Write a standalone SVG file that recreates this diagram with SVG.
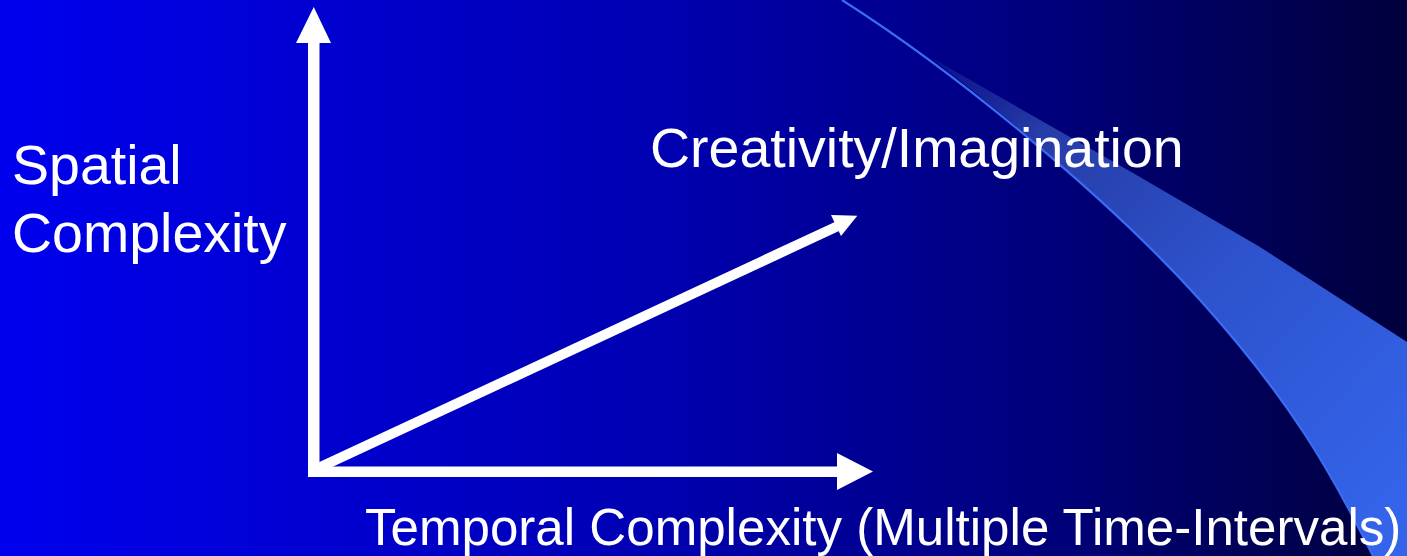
<svg xmlns="http://www.w3.org/2000/svg" width="1407" height="556" viewBox="0 0 1407 556">
  <defs>
    <linearGradient id="bg" x1="0" y1="0" x2="1407" y2="0" gradientUnits="userSpaceOnUse">
      <stop offset="0" stop-color="#0000ee"/>
      <stop offset="0.45" stop-color="#0000b4"/>
      <stop offset="0.75" stop-color="#00007a"/>
      <stop offset="1" stop-color="#00003c"/>
    </linearGradient>
    <linearGradient id="band" x1="930" y1="57" x2="1400" y2="500" gradientUnits="userSpaceOnUse">
      <stop offset="0" stop-color="#22359a" stop-opacity="0.3"/>
      <stop offset="0.2" stop-color="#2a42ac" stop-opacity="0.9"/>
      <stop offset="0.55" stop-color="#2d52cc" stop-opacity="1"/>
      <stop offset="1" stop-color="#3464ea" stop-opacity="1"/>
    </linearGradient>
    <style>
      .lbl { font-family: "Liberation Sans", Arial, sans-serif; fill: #ffffff; }
      .big { font-size: 55.5px; }
      .small { font-size: 51.1px; }
      .arrow { fill: #ffffff; stroke: none; }
      .shaft { stroke: #ffffff; stroke-width: 10; fill: none; }
    </style>
  </defs>

  <g id="background">
    <rect x="0" y="0" width="1407" height="556" fill="url(#bg)"/>
    <path d="M930,57 L1133,173 L1260,247 L1407,342 L1407,556 L1373,556 C1330,470 1290,400 1200,300 C1120,212 1030,135 930,57 Z" fill="url(#band)"/>
    <path d="M842,0 C960,75 1110,200 1200,300 S1330,470 1373,556" fill="none" stroke="#3a6cf5" stroke-width="2.2"/>
  </g>

  <g id="connectors">
    <polygon class="arrow" points="308,477 308,43 296,43 313.75,7 331,43 319.5,43 319.5,477"/>
    <polygon class="arrow" points="313,466.5 837,466.5 837,453 873,471.5 837,490 837,477 313,477"/>
    <line class="shaft" x1="314" y1="470" x2="838" y2="226"/>
    <polygon class="arrow" points="831,215 857.3,215.7 841,236"/>
  </g>

  <g id="spatial-complexity">
    <text class="lbl big" x="12" y="184">Spatial</text>
    <text class="lbl big" x="12" y="252">Complexity</text>
  </g>

  <g id="creativity-imagination">
    <text class="lbl big" x="650" y="167">Creativity/Imagination</text>
  </g>

  <g id="temporal-complexity">
    <text class="lbl small" x="365" y="545">Temporal Complexity (Multiple Time-Intervals)</text>
  </g>
</svg>
